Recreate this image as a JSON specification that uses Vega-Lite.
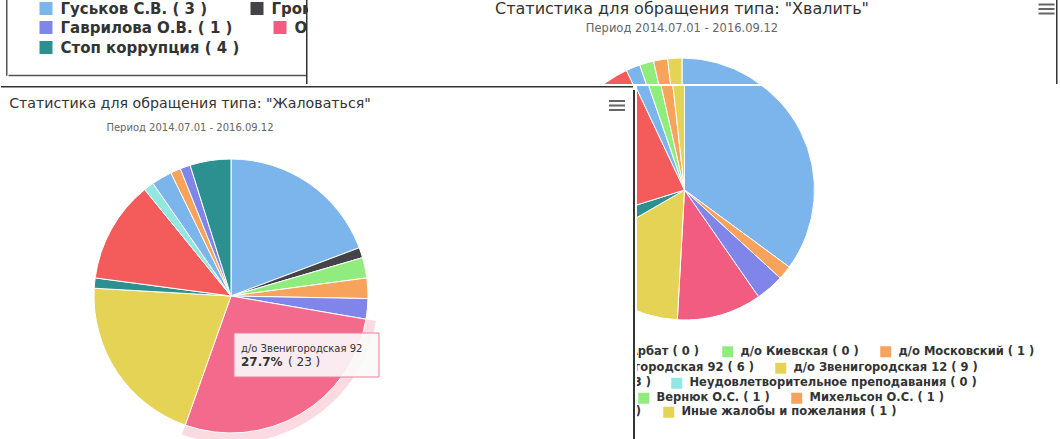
{
"$schema": "https://vega.github.io/schema/vega-lite/v6.json",
"background": "white",
"padding": 0,
"config": {
  "view": {"stroke": null, "strokeWidth": 0},
  "font": "DejaVu Sans",
  "text": {"font": "DejaVu Sans"},
  "legend": {"title": null, "padding": 0, "direction": "horizontal", "symbolType": "square", "symbolStrokeWidth": 0, "symbolOpacity": 1, "labelFont": "DejaVu Sans", "labelFontWeight": "bold", "labelColor": "#333333", "labelLimit": 1000, "gridAlign": "none"}
},
"datasets": {
  "praise": [
    {"n": 1, "category": "д/о Проспект Вернадского", "value": 20, "label": "д/о Проспект Вернадского ( 20 )"},
    {"n": 2, "category": "д/о Арбат", "value": 0, "label": "д/о Арбат ( 0 )"},
    {"n": 3, "category": "д/о Киевская", "value": 0, "label": "д/о Киевская ( 0 )"},
    {"n": 4, "category": "д/о Московский", "value": 1, "label": "д/о Московский ( 1 )"},
    {"n": 5, "category": "д/о Новослободская", "value": 2, "label": "д/о Новослободская ( 2 )"},
    {"n": 6, "category": "д/о Звенигородская 92", "value": 6, "label": "д/о Звенигородская 92 ( 6 )"},
    {"n": 7, "category": "д/о Звенигородская 12", "value": 9, "label": "д/о Звенигородская 12 ( 9 )"},
    {"n": 8, "category": "д/о Таганская", "value": 2, "label": "д/о Таганская ( 2 )"},
    {"n": 9, "category": "д/о Сретенка", "value": 13, "label": "д/о Сретенка ( 13 )"},
    {"n": 10, "category": "Неудовлетворительное преподавания", "value": 0, "label": "Неудовлетворительное преподавания ( 0 )"},
    {"n": 11, "category": "Гуськов С.В.", "value": 1, "label": "Гуськов С.В. ( 1 )"},
    {"n": 12, "category": "Громов А.В.", "value": 0, "label": "Громов А.В. ( 0 )"},
    {"n": 13, "category": "Вернюк О.С.", "value": 1, "label": "Вернюк О.С. ( 1 )"},
    {"n": 14, "category": "Михельсон О.С.", "value": 1, "label": "Михельсон О.С. ( 1 )"},
    {"n": 15, "category": "Гаврилова О.В.", "value": 0, "label": "Гаврилова О.В. ( 0 )"},
    {"n": 16, "category": "Орлова Н.И.", "value": 0, "label": "Орлова Н.И. ( 0 )"},
    {"n": 17, "category": "Иные жалобы и пожелания", "value": 1, "label": "Иные жалобы и пожелания ( 1 )"}
  ],
  "complaint": [
    {"n": 1, "category": "д/о Проспект Вернадского", "value": 16},
    {"n": 2, "category": "д/о Арбат", "value": 1},
    {"n": 3, "category": "д/о Киевская", "value": 2},
    {"n": 4, "category": "д/о Московский", "value": 2},
    {"n": 5, "category": "д/о Новослободская", "value": 2},
    {"n": 6, "category": "д/о Звенигородская 92", "value": 23},
    {"n": 7, "category": "д/о Звенигородская 12", "value": 17},
    {"n": 8, "category": "д/о Таганская", "value": 1},
    {"n": 9, "category": "д/о Сретенка", "value": 10},
    {"n": 10, "category": "Неудовлетворительное преподавания", "value": 1},
    {"n": 11, "category": "Гуськов С.В.", "value": 2},
    {"n": 12, "category": "Громов А.В.", "value": 0},
    {"n": 13, "category": "Вернюк О.С.", "value": 0},
    {"n": 14, "category": "Михельсон О.С.", "value": 1},
    {"n": 15, "category": "Гаврилова О.В.", "value": 1},
    {"n": 16, "category": "Орлова Н.И.", "value": 0},
    {"n": 17, "category": "Иные жалобы и пожелания", "value": 0},
    {"n": 18, "category": "Стоп коррупция", "value": 4}
  ],
  "tl": [
    {"n": 11, "category": "Гуськов С.В.", "value": 3, "label": "Гуськов С.В. ( 3 )"},
    {"n": 12, "category": "Громов А.В.", "value": 0, "label": "Громов А.В. ( 0 )"},
    {"n": 15, "category": "Гаврилова О.В.", "value": 1, "label": "Гаврилова О.В. ( 1 )"},
    {"n": 16, "category": "Орлова Н.И.", "value": 0, "label": "Орлова Н.И. ( 0 )"},
    {"n": 18, "category": "Стоп коррупция", "value": 4, "label": "Стоп коррупция ( 4 )"}
  ]
},
"spacing": 0,
"resolve": {"scale": {"color": "independent", "theta": "independent"}},
"vconcat": [
  {"bounds": "flush", "spacing": 0, "resolve": {"scale": {"color": "independent", "theta": "independent"}}, "hconcat": [
    {"width": 5, "height": 84, "data": {"values": [{}]}, "mark": {"type": "point", "opacity": 0}, "encoding": {}},
    {"width": 1.5, "height": 75.75, "view": {"fill": "#555555", "stroke": null}, "data": {"values": [{}]}, "mark": {"type": "point", "opacity": 0}, "encoding": {}},
    {"width": 297.5, "height": 75, "view": {"fill": "white", "stroke": null}, "data": {"name": "tl"}, "resolve": {"scale": {"color": "independent"}}, "layer": [
      {"transform": [{"filter": {"field": "n", "oneOf": [11, 12]}}], "mark": {"type": "square", "size": 0, "opacity": 1},
       "encoding": {
         "x": {"field": "n", "type": "quantitative", "axis": {"domainColor": "#555555", "domainWidth": 1.5, "ticks": false, "labels": false, "grid": false, "title": null, "minExtent": 0, "maxExtent": 0, "offset": 0}},
         "color": {"field": "label", "type": "nominal", "sort": {"field": "n", "op": "min"}, "scale": {"range": ["#7cb5ec", "#434348"]},
           "legend": {"orient": "none", "legendX": 30.5, "legendY": 1, "columns": 2, "symbolSize": 169, "labelFontSize": 15, "labelOffset": 7, "columnPadding": 42}}}},
      {"transform": [{"filter": {"field": "n", "oneOf": [15, 16]}}], "mark": {"type": "square", "size": 0, "opacity": 1},
       "encoding": {
         "color": {"field": "label", "type": "nominal", "sort": {"field": "n", "op": "min"}, "scale": {"range": ["#8085e9", "#f15c80"]},
           "legend": {"orient": "none", "legendX": 30.5, "legendY": 20, "columns": 2, "symbolSize": 169, "labelFontSize": 15, "labelOffset": 7, "columnPadding": 40}}}},
      {"transform": [{"filter": {"field": "n", "oneOf": [18]}}], "mark": {"type": "square", "size": 0, "opacity": 1},
       "encoding": {
         "color": {"field": "label", "type": "nominal", "scale": {"range": ["#2b908f"]},
           "legend": {"orient": "none", "legendX": 30.5, "legendY": 40, "columns": 1, "symbolSize": 169, "labelFontSize": 15, "labelOffset": 7, "columnPadding": 35}}}}
    ]},
    {"width": 1.5, "height": 84, "view": {"fill": "#333333", "stroke": null}, "data": {"values": [{}]}, "mark": {"type": "point", "opacity": 0}, "encoding": {}},
    {"width": 748, "height": 84, "view": {"fill": "white", "stroke": null}, "layer": [
      {"data": {"name": "praise"}, "transform": [{"filter": "datum.value > 0"}],
       "mark": {"type": "arc", "outerRadius": 130, "stroke": "white", "strokeWidth": 1, "clip": true, "yOffset": 146},
       "encoding": {
         "theta": {"field": "value", "type": "quantitative", "stack": true},
         "order": {"field": "n", "type": "quantitative"},
         "color": {"field": "category", "type": "nominal", "legend": null,
           "scale": {"domain": ["д/о Проспект Вернадского", "д/о Арбат", "д/о Киевская", "д/о Московский", "д/о Новослободская", "д/о Звенигородская 92", "д/о Звенигородская 12", "д/о Таганская", "д/о Сретенка", "Неудовлетворительное преподавания", "Гуськов С.В.", "Громов А.В.", "Вернюк О.С.", "Михельсон О.С.", "Гаврилова О.В.", "Орлова Н.И.", "Иные жалобы и пожелания", "Стоп коррупция"],
                     "range": ["#7cb5ec", "#434348", "#90ed7d", "#f7a35c", "#8085e9", "#f15c80", "#e4d354", "#2b908f", "#f45b5b", "#91e8e1", "#7cb5ec", "#434348", "#90ed7d", "#f7a35c", "#8085e9", "#f15c80", "#e4d354", "#2b908f"]}}
       }},
      {"data": {"values": [{}]}, "mark": {"type": "text", "text": "Статистика для обращения типа: \"Хвалить\"", "fontSize": 16, "color": "#333333", "align": "center", "baseline": "alphabetic", "dy": -28}, "encoding": {}},
      {"data": {"values": [{}]}, "mark": {"type": "text", "text": "Период 2014.07.01 - 2016.09.12", "fontSize": 11.5, "color": "#666666", "align": "center", "baseline": "alphabetic", "dy": -10.5}, "encoding": {}},
      {"data": {"values": [{}]}, "mark": {"type": "point", "shape": "M-1,-0.7H1V-0.45H-1Z M-1,-0.125H1V0.125H-1Z M-1,0.45H1V0.7H-1Z", "size": 256, "filled": true, "color": "#666666", "opacity": 1, "xOffset": 364.5, "yOffset": -33}, "encoding": {}}
    ]},
    {"width": 1.5, "height": 84, "view": {"fill": "#333333", "stroke": null}, "data": {"values": [{}]}, "mark": {"type": "point", "opacity": 0}, "encoding": {}},
    {"width": 6, "height": 84, "data": {"values": [{}]}, "mark": {"type": "point", "opacity": 0}, "encoding": {}}
  ]},
  {"spacing": 0, "resolve": {"scale": {"color": "independent", "theta": "independent"}}, "hconcat": [
    {"spacing": 0, "resolve": {"scale": {"color": "independent", "theta": "independent"}}, "vconcat": [
      {"width": 632, "height": 1.5, "view": {"fill": "#333333", "stroke": null}, "data": {"values": [{}]}, "mark": {"type": "point", "opacity": 0}, "encoding": {}},
      {"spacing": 0, "resolve": {"scale": {"color": "independent", "theta": "independent"}}, "hconcat": [
        {"spacing": 0, "resolve": {"scale": {"color": "independent", "theta": "independent"}}, "vconcat": [
          {"spacing": 0, "resolve": {"scale": {"color": "independent", "theta": "independent"}}, "hconcat": [
            {"width": 378, "height": 57.5, "view": {"fill": "white", "stroke": null}, "data": {"values": [{}]}, "layer": [
              {"mark": {"type": "text", "text": "Статистика для обращения типа: \"Жаловаться\"", "fontSize": 14.2, "color": "#333333", "align": "center", "baseline": "alphabetic", "dy": -11}, "encoding": {}},
              {"mark": {"type": "text", "text": "Период 2014.07.01 - 2016.09.12", "fontSize": 10, "color": "#666666", "align": "center", "baseline": "alphabetic", "dy": 12}, "encoding": {}}
            ]},
            {"width": 252, "height": 57.5, "view": {"fill": "white", "stroke": null}, "data": {"values": [{}]},
             "mark": {"type": "point", "shape": "M-1,-0.7H1V-0.45H-1Z M-1,-0.125H1V0.125H-1Z M-1,0.45H1V0.7H-1Z", "size": 256, "filled": true, "color": "#666666", "opacity": 1, "xOffset": 112, "yOffset": -13.25}, "encoding": {}}
          ]},
          {"spacing": 0, "resolve": {"scale": {"color": "independent", "theta": "independent"}}, "hconcat": [
            {"width": 460, "height": 296, "view": {"fill": "white", "stroke": null}, "data": {"name": "complaint"}, "transform": [{"filter": "datum.value > 0"}], "layer": [
              {"mark": {"type": "arc", "innerRadius": 137, "outerRadius": 147},
               "encoding": {
                 "theta": {"field": "value", "type": "quantitative", "stack": true},
                 "order": {"field": "n", "type": "quantitative"},
                 "opacity": {"condition": {"test": "datum.n === 6", "value": 0.25}, "value": 0},
                 "color": {"field": "category", "type": "nominal", "legend": null,
                   "scale": {"domain": ["д/о Проспект Вернадского", "д/о Арбат", "д/о Киевская", "д/о Московский", "д/о Новослободская", "д/о Звенигородская 92", "д/о Звенигородская 12", "д/о Таганская", "д/о Сретенка", "Неудовлетворительное преподавания", "Гуськов С.В.", "Громов А.В.", "Вернюк О.С.", "Михельсон О.С.", "Гаврилова О.В.", "Орлова Н.И.", "Иные жалобы и пожелания", "Стоп коррупция"],
                             "range": ["#7cb5ec", "#434348", "#90ed7d", "#f7a35c", "#8085e9", "#f36a8c", "#e4d354", "#2b908f", "#f45b5b", "#91e8e1", "#7cb5ec", "#434348", "#90ed7d", "#f7a35c", "#8085e9", "#f15c80", "#e4d354", "#2b908f"]}}
               }},
              {"mark": {"type": "arc", "outerRadius": 137, "stroke": "white", "strokeWidth": 1},
               "encoding": {
                 "theta": {"field": "value", "type": "quantitative", "stack": true},
                 "order": {"field": "n", "type": "quantitative"},
                 "color": {"field": "category", "type": "nominal", "legend": null}
               }},
              {"transform": [{"filter": "datum.n === 6"}],
               "mark": {"type": "point", "shape": "M0.03,0.37H1.48V0.81H0.03Z", "size": 40000, "filled": true, "fill": "#f9f9f9", "fillOpacity": 0.9, "stroke": "#f37f9b", "strokeWidth": 1, "opacity": 1}, "encoding": {}},
              {"transform": [{"filter": "datum.n === 6"}],
               "mark": {"type": "text", "align": "left", "baseline": "alphabetic", "dx": 10, "dy": 56, "fontSize": 10, "color": "#333333"},
               "encoding": {"text": {"field": "category", "type": "nominal"}}},
              {"transform": [{"filter": "datum.n === 6"}],
               "mark": {"type": "text", "text": "27.7%", "align": "left", "baseline": "alphabetic", "dx": 10, "dy": 70, "fontSize": 12, "fontWeight": "bold", "color": "#333333"}, "encoding": {}},
              {"transform": [{"filter": "datum.n === 6"}],
               "mark": {"type": "text", "text": "( 23 )", "align": "left", "baseline": "alphabetic", "dx": 57, "dy": 70, "fontSize": 12, "color": "#333333"}, "encoding": {}}
            ]},
            {"width": 170, "height": 296, "view": {"fill": "white", "stroke": null}, "data": {"values": [{}]}, "mark": {"type": "point", "opacity": 0}, "encoding": {}}
          ]}
        ]},
        {"width": 2, "height": 353.5, "view": {"fill": "#333333", "stroke": null}, "data": {"values": [{}]}, "mark": {"type": "point", "opacity": 0}, "encoding": {}}
      ]}
    ]},
    {"spacing": 0, "resolve": {"scale": {"color": "independent", "theta": "independent"}}, "hconcat": [
      {"spacing": 0, "resolve": {"scale": {"color": "independent", "theta": "independent"}}, "vconcat": [
        {"width": 421.5, "height": 254, "view": {"fill": "white", "stroke": null}, "data": {"name": "praise"}, "transform": [{"filter": "datum.value > 0"}],
         "mark": {"type": "arc", "outerRadius": 130, "stroke": "white", "strokeWidth": 1, "clip": true, "xOffset": -163.25, "yOffset": -23},
         "encoding": {
           "theta": {"field": "value", "type": "quantitative", "stack": true},
           "order": {"field": "n", "type": "quantitative"},
           "color": {"field": "category", "type": "nominal", "legend": null,
             "scale": {"domain": ["д/о Проспект Вернадского", "д/о Арбат", "д/о Киевская", "д/о Московский", "д/о Новослободская", "д/о Звенигородская 92", "д/о Звенигородская 12", "д/о Таганская", "д/о Сретенка", "Неудовлетворительное преподавания", "Гуськов С.В.", "Громов А.В.", "Вернюк О.С.", "Михельсон О.С.", "Гаврилова О.В.", "Орлова Н.И.", "Иные жалобы и пожелания", "Стоп коррупция"],
                       "range": ["#7cb5ec", "#434348", "#90ed7d", "#f7a35c", "#8085e9", "#f15c80", "#e4d354", "#2b908f", "#f45b5b", "#91e8e1", "#7cb5ec", "#434348", "#90ed7d", "#f7a35c", "#8085e9", "#f15c80", "#e4d354", "#2b908f"]}}
         }},
        {"width": 421.5, "height": 99.75, "view": {"fill": "white", "stroke": null}, "data": {"name": "praise"}, "resolve": {"scale": {"color": "independent"}}, "layer": [
          {"transform": [{"filter": {"field": "n", "oneOf": [3, 4]}}], "mark": {"type": "square", "size": 0, "opacity": 1},
           "encoding": {
             "x": {"field": "n", "type": "quantitative", "axis": {"domainColor": "#333333", "domainWidth": 1.5, "ticks": false, "labels": false, "grid": false, "title": null, "minExtent": 0, "maxExtent": 0, "offset": 0}},
             "color": {"field": "label", "type": "nominal", "sort": {"field": "n", "op": "min"}, "scale": {"range": ["#90ed7d", "#f7a35c"]}, "legend": {"orient": "none", "legendX": 85, "legendY": 6, "columns": 2, "symbolSize": 121, "labelFontSize": 11.5, "labelOffset": 7, "columnPadding": 21}}}},
          {"transform": [{"filter": {"field": "n", "oneOf": [7]}}], "mark": {"type": "square", "size": 0, "opacity": 1},
           "encoding": {"color": {"field": "label", "type": "nominal", "scale": {"range": ["#e4d354"]}, "legend": {"orient": "none", "legendX": 138, "legendY": 22.5, "columns": 1, "symbolSize": 121, "labelFontSize": 11.5, "labelOffset": 7, "columnPadding": 21}}}},
          {"transform": [{"filter": {"field": "n", "oneOf": [10]}}], "mark": {"type": "square", "size": 0, "opacity": 1},
           "encoding": {"color": {"field": "label", "type": "nominal", "scale": {"range": ["#91e8e1"]}, "legend": {"orient": "none", "legendX": 34, "legendY": 37.5, "columns": 1, "symbolSize": 121, "labelFontSize": 11.5, "labelOffset": 7, "columnPadding": 21}}}},
          {"transform": [{"filter": {"field": "n", "oneOf": [13, 14]}}], "mark": {"type": "square", "size": 0, "opacity": 1},
           "encoding": {"color": {"field": "label", "type": "nominal", "sort": {"field": "n", "op": "min"}, "scale": {"range": ["#90ed7d", "#f7a35c"]}, "legend": {"orient": "none", "legendX": 1, "legendY": 52.5, "columns": 2, "symbolSize": 121, "labelFontSize": 11.5, "labelOffset": 7, "columnPadding": 21}}}},
          {"transform": [{"filter": {"field": "n", "oneOf": [17]}}], "mark": {"type": "square", "size": 0, "opacity": 1},
           "encoding": {"color": {"field": "label", "type": "nominal", "scale": {"range": ["#e4d354"]}, "legend": {"orient": "none", "legendX": 26, "legendY": 66.5, "columns": 1, "symbolSize": 121, "labelFontSize": 11.5, "labelOffset": 7, "columnPadding": 21}}}},
          {"transform": [{"filter": "datum.n === 2"}], "mark": {"type": "text", "align": "right", "baseline": "middle", "dx": -148.75, "dy": -38, "fontSize": 11.5, "fontWeight": "bold", "color": "#333333", "clip": true}, "encoding": {"text": {"field": "label", "type": "nominal"}}},
          {"transform": [{"filter": "datum.n === 6"}], "mark": {"type": "text", "align": "right", "baseline": "middle", "dx": -93.75, "dy": -21.5, "fontSize": 11.5, "fontWeight": "bold", "color": "#333333", "clip": true}, "encoding": {"text": {"field": "label", "type": "nominal"}}},
          {"transform": [{"filter": "datum.n === 9"}], "mark": {"type": "text", "align": "right", "baseline": "middle", "dx": -196.75, "dy": -6.5, "fontSize": 11.5, "fontWeight": "bold", "color": "#333333", "clip": true}, "encoding": {"text": {"field": "label", "type": "nominal"}}},
          {"transform": [{"filter": "datum.n === 16"}], "mark": {"type": "text", "align": "right", "baseline": "middle", "dx": -206.75, "dy": 22.5, "fontSize": 11.5, "fontWeight": "bold", "color": "#333333", "clip": true}, "encoding": {"text": {"field": "label", "type": "nominal"}}}
        ]}
      ]},
      {"width": 1.5, "height": 354.5, "view": {"fill": "#333333", "stroke": null}, "data": {"values": [{}]}, "mark": {"type": "point", "opacity": 0}, "encoding": {}}
    ]},
    {"width": 6, "height": 10, "data": {"values": [{}]}, "mark": {"type": "point", "opacity": 0}, "encoding": {}}
  ]}
]
}
